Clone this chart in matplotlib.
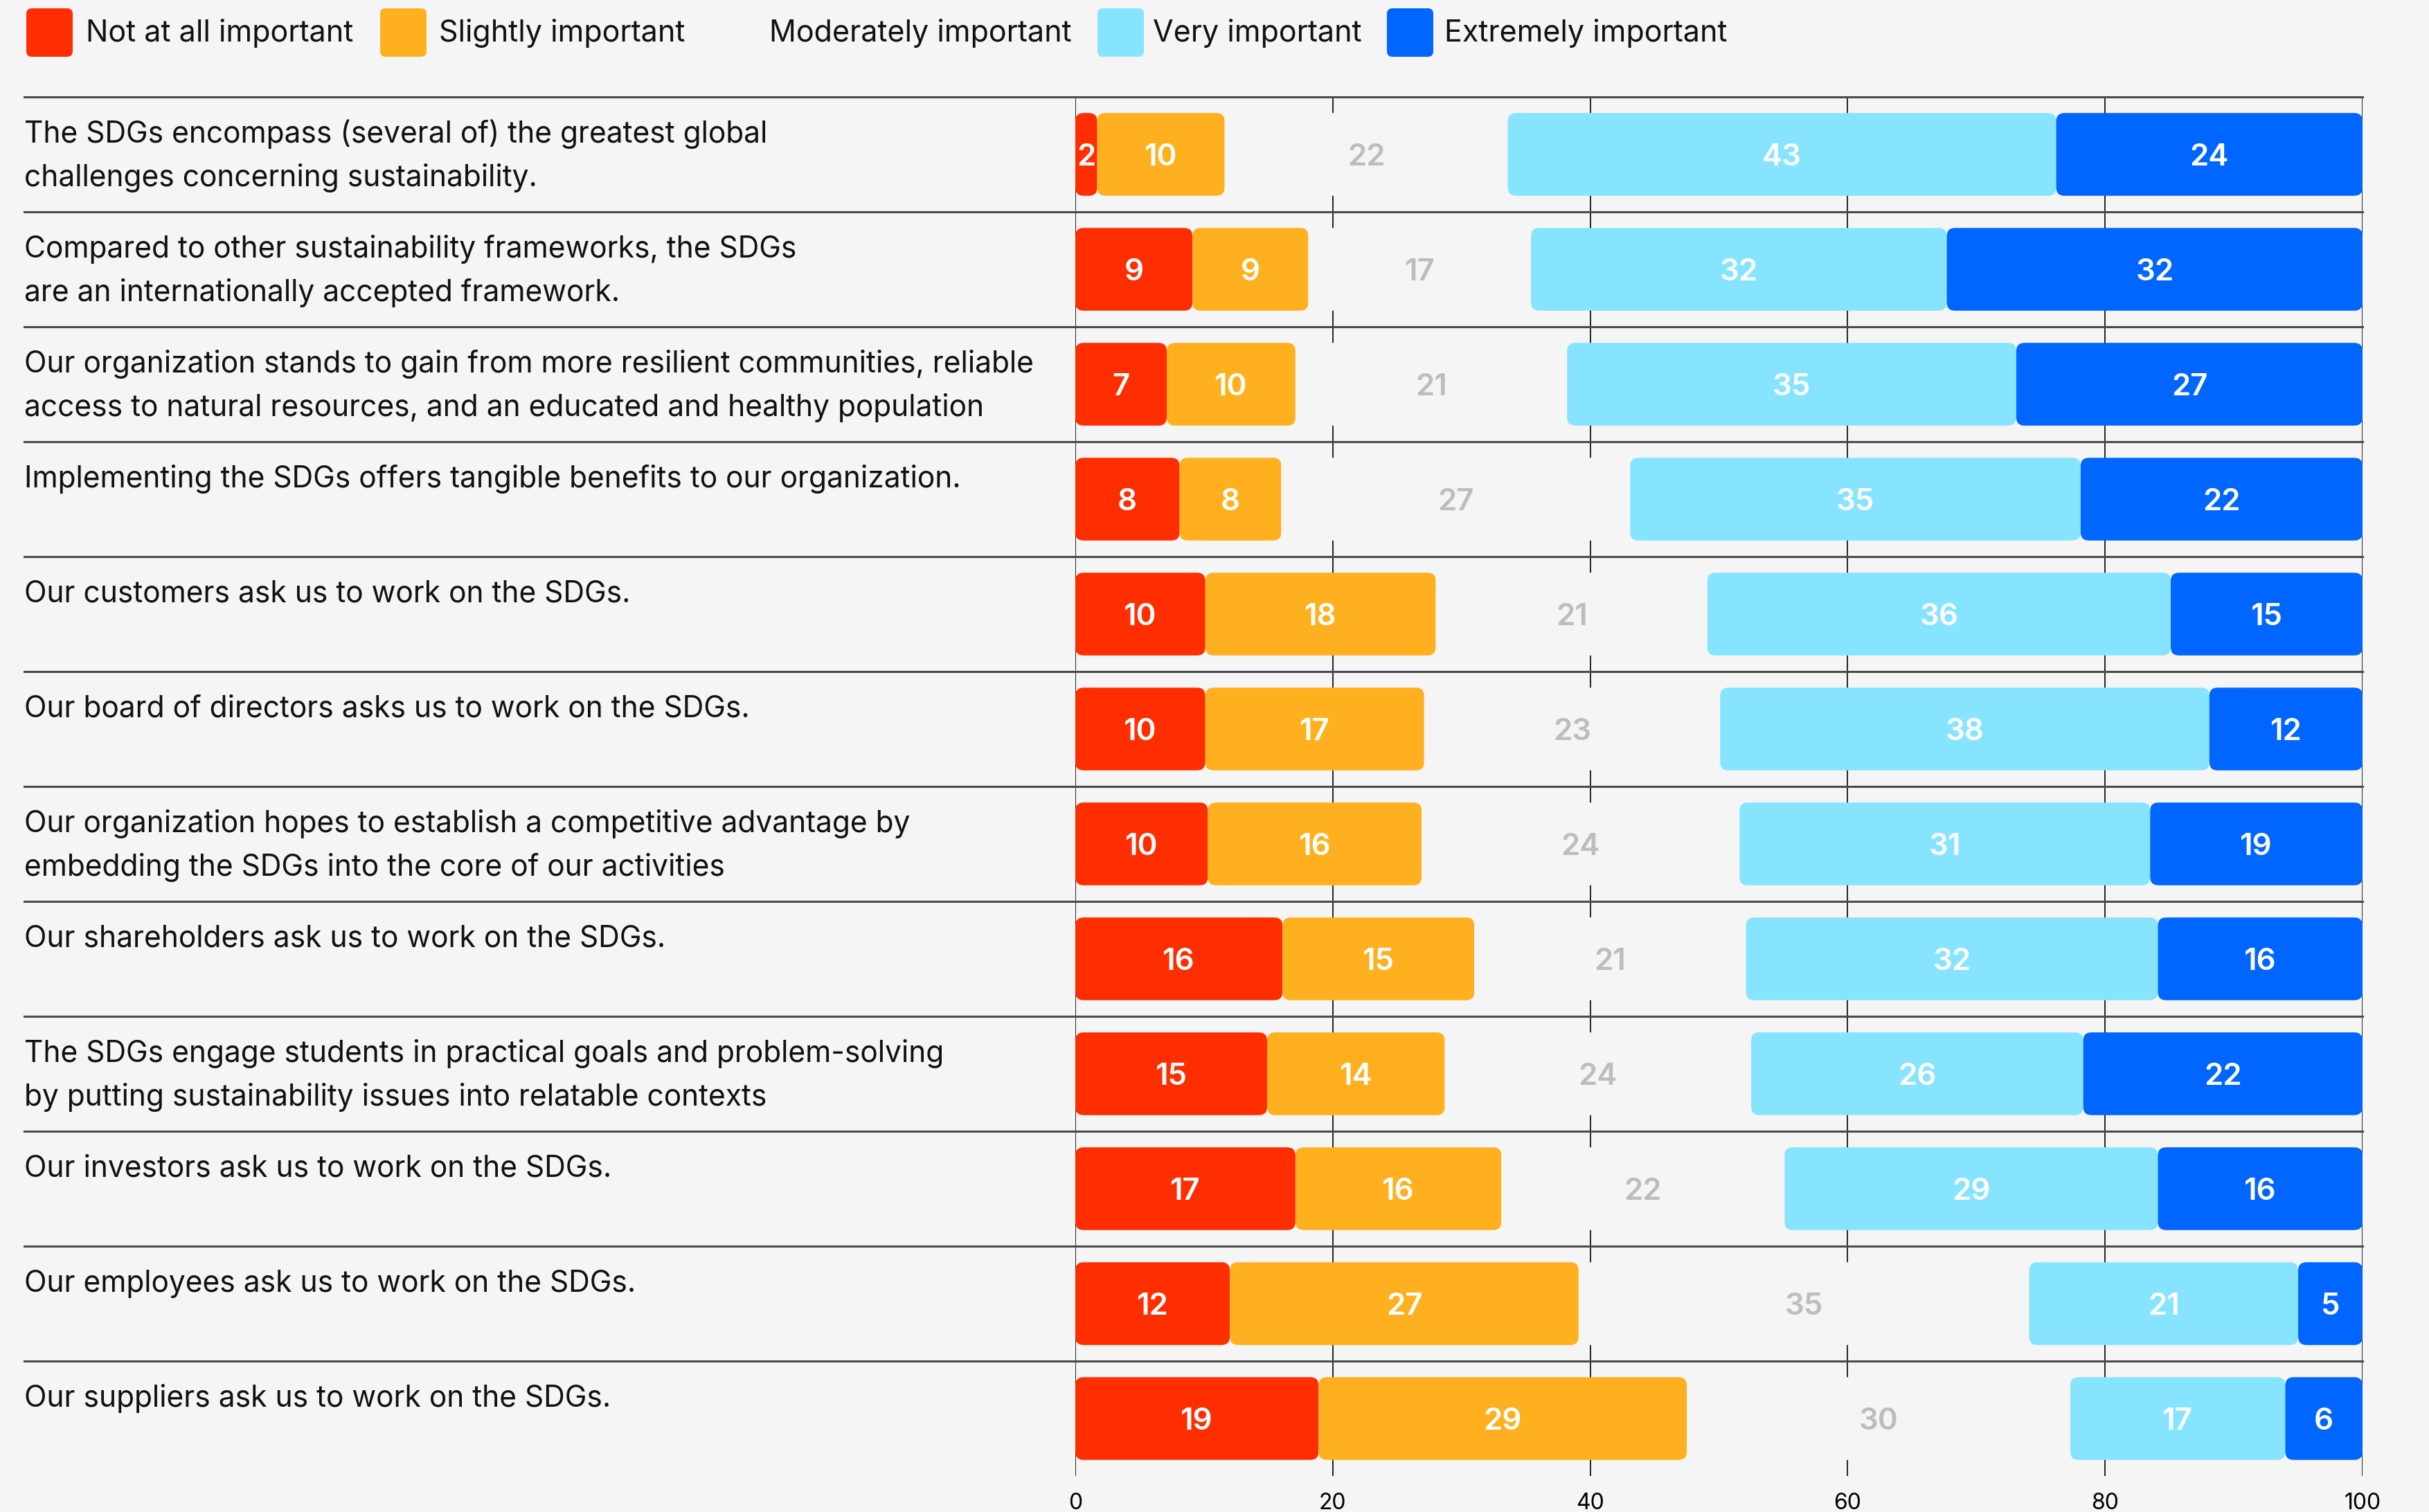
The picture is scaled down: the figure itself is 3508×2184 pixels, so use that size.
import numpy as np
import matplotlib
matplotlib.use("Agg")
import matplotlib.pyplot as plt
from matplotlib.patches import FancyBboxPatch

plt.rcParams["font.family"] = ["Inter", "DejaVu Sans"]

BG = "#f5f5f5"

levels = ["Not at all important", "Slightly important", "Moderately important",
          "Very important", "Extremely important"]
colors = ["#ff2e00", "#ffb01f", BG, "#87e4ff", "#0066ff"]
label_colors = ["white", "white", "#bdbdbd", "white", "white"]

statements = [
    "The SDGs encompass (several of) the greatest global\nchallenges concerning sustainability.",
    "Compared to other sustainability frameworks, the SDGs\nare an internationally accepted framework.",
    "Our organization stands to gain from more resilient communities, reliable\naccess to natural resources, and an educated and healthy population",
    "Implementing the SDGs offers tangible benefits to our organization.",
    "Our customers ask us to work on the SDGs.",
    "Our board of directors asks us to work on the SDGs.",
    "Our organization hopes to establish a competitive advantage by\nembedding the SDGs into the core of our activities",
    "Our shareholders ask us to work on the SDGs.",
    "The SDGs engage students in practical goals and problem-solving\nby putting sustainability issues into relatable contexts",
    "Our investors ask us to work on the SDGs.",
    "Our employees ask us to work on the SDGs.",
    "Our suppliers ask us to work on the SDGs.",
]

# segment lengths (% of respondents)
not_at_all = [1.7, 9.1, 7.1, 8.1, 10.1, 10.1, 10.3, 16.1, 14.9, 17.1, 12.0, 18.9]
slightly   = [9.9, 9.0, 10.0, 7.9, 17.9, 17.0, 16.6, 14.9, 13.8, 16.0, 27.1, 28.6]
moderately = [22.0, 17.3, 21.1, 27.1, 21.1, 23.0, 24.7, 21.1, 23.8, 22.0, 35.0, 29.8]
very       = [42.6, 32.3, 34.9, 35.0, 36.0, 38.0, 31.9, 32.0, 25.8, 29.0, 20.9, 16.7]
extremely  = [23.8, 32.3, 26.9, 21.9, 14.9, 11.9, 16.5, 15.9, 21.7, 15.9, 5.0, 6.0]

# numbers printed on the segments
lab_not_at_all = [2, 9, 7, 8, 10, 10, 10, 16, 15, 17, 12, 19]
lab_slightly   = [10, 9, 10, 8, 18, 17, 16, 15, 14, 16, 27, 29]
lab_moderately = [22, 17, 21, 27, 21, 23, 24, 21, 24, 22, 35, 30]
lab_very       = [43, 32, 35, 35, 36, 38, 31, 32, 26, 29, 21, 17]
lab_extremely  = [24, 32, 27, 22, 15, 12, 19, 16, 22, 16, 5, 6]

xticks = [0, 20, 40, 60, 80, 100]

series = [not_at_all, slightly, moderately, very, extremely]
labels = [lab_not_at_all, lab_slightly, lab_moderately, lab_very, lab_extremely]

W, H = 3508, 2184
fig = plt.figure(figsize=(W / 100, H / 100), dpi=100, facecolor=BG)
ax = fig.add_axes([1553 / W, 1 - 2132 / H, (3412 - 1553) / W, (2132 - 140) / H])
ax.set_facecolor(BG)

n = len(statements)
y = np.arange(n) + 0.5
ax.set_xlim(0, 100)
ax.set_ylim(n, 0)

ax.set_xticks(xticks)
ax.set_yticks([])
ax.grid(axis="x", color="#222222", lw=1.4, zorder=0)
ax.set_axisbelow(True)
for s in ax.spines.values():
    s.set_visible(False)
ax.tick_params(axis="x", length=0, pad=17, labelsize=23)

# rounded corners: radius ~12 px, in data units on each axis
r_x = 0.65
aspect = (12 / 166) / r_x

left = np.zeros(n)
for vals, labs, col, lcol in zip(series, labels, colors, label_colors):
    vals = np.array(vals)
    bars = ax.barh(y, vals, left=left, height=0.72, color=col, zorder=2)
    for b in bars:
        bx, by, bw, bh = b.get_x(), b.get_y(), b.get_width(), b.get_height()
        b.remove()
        ax.add_patch(FancyBboxPatch((bx, by), bw, bh,
                                    boxstyle=f"round,pad=0,rounding_size={min(r_x, bw / 2)}",
                                    mutation_aspect=aspect, fc=col, ec="none", zorder=2))
    for yi, l, v, lab in zip(y, left, vals, labs):
        ax.text(l + v / 2, yi, str(lab), ha="center", va="center_baseline",
                color=lcol, fontsize=31.5, fontweight="semibold", zorder=3)
    left += vals

# row separators and statement text
x_text = (35 - 1553) / (3412 - 1553)
tr = ax.get_yaxis_transform()
for i, txt in enumerate(statements):
    ax.plot([x_text, 1], [i, i], transform=tr, color="#4a4a4a", lw=2.2,
            clip_on=False, zorder=4)
    for k, line in enumerate(txt.split("\n")):
        ax.text(x_text, i + 0.397 + k * 0.38, line, transform=tr, ha="left",
                va="baseline", fontsize=30.6, color="#111111")

# legend along the top
lax = fig.add_axes([0, 1 - 100 / H, 1, 100 / H])
lax.set_xlim(0, W)
lax.set_ylim(100, 0)
lax.axis("off")
sw_x = [38, 549, 1027, 1585, 2003]
tx_x = [124, 634, 1111, 1665, 2086]
for name, col, sx, tx in zip(levels, colors, sw_x, tx_x):
    lax.add_patch(FancyBboxPatch((sx, 12), 67, 70, boxstyle="round,pad=0,rounding_size=8",
                                 fc=col, ec="none"))
    lax.text(tx, 60, name, ha="left", va="baseline", fontsize=31, color="#111111")

fig.savefig("out.png", dpi=100, facecolor=BG)
